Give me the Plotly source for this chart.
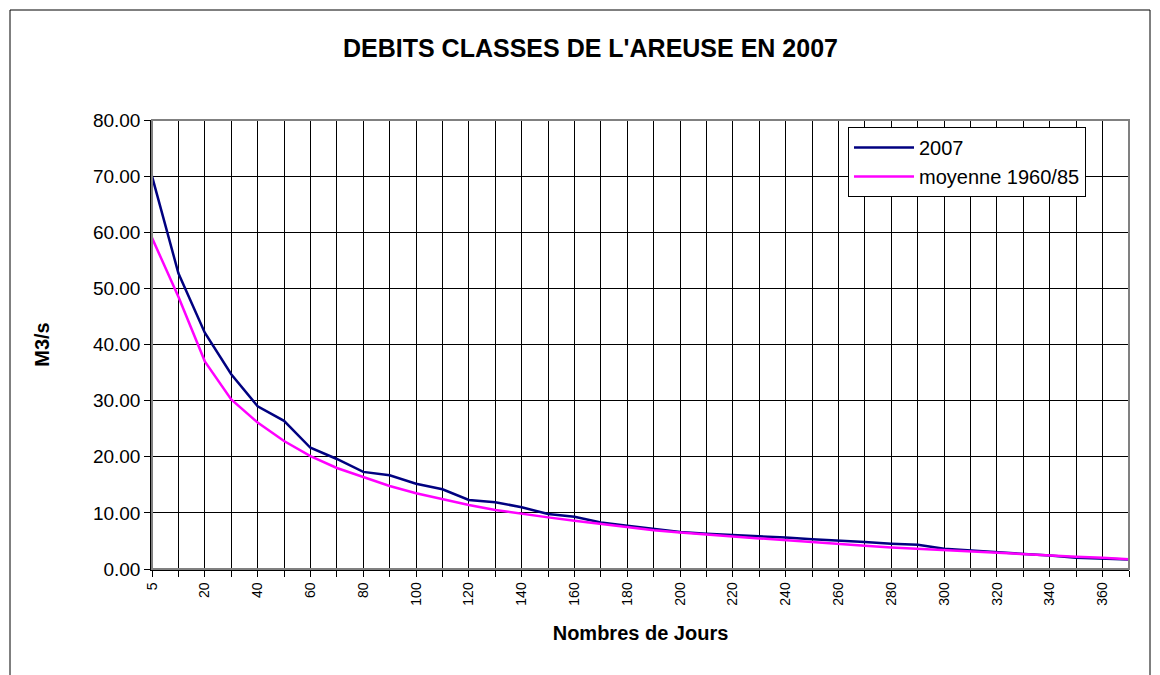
import plotly.graph_objects as go

days = [5] + list(range(10, 370, 10)) + [365]
days_lbl = [str(d) for d in days]
q_2007 = [70.0, 52.7, 42.1, 34.7, 29.0, 26.4, 21.6, 19.6, 17.3, 16.7, 15.2, 14.2,
          12.3, 11.9, 11.0, 9.8, 9.3, 8.3, 7.7, 7.1, 6.6, 6.3, 6.1, 5.9, 5.6, 5.3,
          5.1, 4.8, 4.5, 4.3, 3.6, 3.3, 3.0, 2.8, 2.4, 2.0, 1.9, 1.7]
q_moy = [59.0, 48.5, 37.0, 30.2, 26.1, 22.8, 20.1, 18.0, 16.4, 14.8, 13.5, 12.4,
         11.4, 10.5, 9.8, 9.2, 8.6, 8.0, 7.4, 6.9, 6.5, 6.2, 5.8, 5.45, 5.1, 4.85,
         4.5, 4.15, 3.85, 3.6, 3.35, 3.1, 2.9, 2.7, 2.45, 2.2, 2.0, 1.75]
tick_text = [lbl if i % 2 == 0 and i < len(days) - 1 else "" for i, lbl in enumerate(days_lbl)]
y_ticks = [0, 10, 20, 30, 40, 50, 60, 70, 80]

FONT = "Liberation Sans, Arial, sans-serif"

fig = go.Figure()
fig.add_trace(go.Scatter(x=days_lbl, y=q_2007, mode="lines", name="2007",
                         line=dict(color="#000080", width=2.5)))
fig.add_trace(go.Scatter(x=days_lbl, y=q_moy, mode="lines", name="moyenne 1960/85",
                         line=dict(color="#FF00FF", width=2.5)))

# page body has an 8px margin, so the figure is placed 8px in from the window edge
OFF = 8
FW, FH = 1160 - OFF, 675 - OFF
PL, PR, PT, PB = 152 - OFF, 1129 - OFF, 120 - OFF, 569 - OFF
W = PR - PL
H = PB - PT


def px(x):
    return (x - OFF - PL) / W


def py(y):
    return (PB - (y - OFF)) / H


fig.update_layout(
    width=FW, height=FH,
    margin=dict(l=PL, r=FW - PR, t=PT, b=FH - PB),
    paper_bgcolor="white", plot_bgcolor="white",
    font=dict(family=FONT, color="black"),
    showlegend=True,
    legend=dict(x=px(848), y=py(127), xanchor="left", yanchor="top",
                bordercolor="black", borderwidth=1, bgcolor="white",
                font=dict(size=20, family=FONT), tracegroupgap=0,
                itemwidth=60),
    xaxis=dict(type="category", tickmode="array", tickvals=days_lbl, ticktext=tick_text,
               tickangle=-90, tickfont=dict(size=14, family=FONT),
               showgrid=True, gridcolor="#000000", gridwidth=1,
               ticks="outside", ticklen=6, tickcolor="black",
               showline=True, linecolor="black", linewidth=1.5,
               range=[0, len(days) - 1], zeroline=False,
               title=dict(text="<b>Nombres de Jours</b>", font=dict(size=20, family=FONT), standoff=21)),
    yaxis=dict(range=[0, 80], tickvals=y_ticks, tickformat=".2f",
               tickfont=dict(size=19, family=FONT),
               showgrid=True, gridcolor="#000000", gridwidth=1,
               ticks="outside", ticklen=6, tickcolor="black",
               showline=True, linecolor="black", linewidth=1.5, zeroline=False,
               title=dict(text="<b>M3/s</b>", font=dict(size=20, family=FONT), standoff=38)),
    shapes=[
        dict(type="rect", xref="paper", yref="paper", x0=0, x1=1, y0=0, y1=1,
             line=dict(color="#808080", width=2), layer="above"),
        dict(type="rect", xref="paper", yref="paper",
             x0=px(10), x1=px(1150), y0=py(720), y1=py(10),
             line=dict(color="black", width=1)),
    ],
    annotations=[
        dict(text="<b>DEBITS CLASSES DE L'AREUSE EN 2007</b>", xref="paper", yref="paper",
             x=px(590), y=py(48), xanchor="center", yanchor="middle",
             showarrow=False, font=dict(size=25, family=FONT)),
    ],
)

fig.write_html("out.html")
